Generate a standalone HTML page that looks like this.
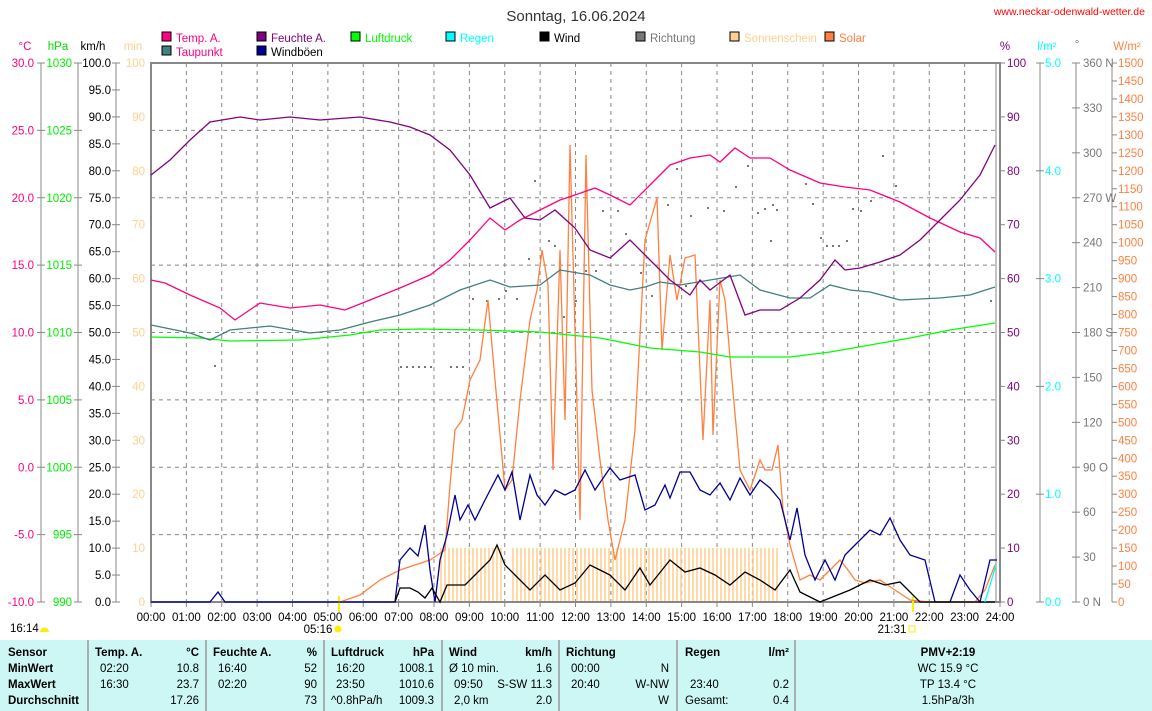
<!DOCTYPE html>
<html><head><meta charset="utf-8">
<style>
body{margin:0;background:#fff;width:1152px;height:711px;overflow:hidden;font-family:"Liberation Sans",sans-serif}
svg{position:absolute;left:0;top:0}
svg text{font-family:"Liberation Sans",sans-serif;font-size:11.5px}
</style></head><body>
<svg id="s" width="1152" height="711" xmlns="http://www.w3.org/2000/svg">
<rect x="0" y="640" width="1152" height="71" fill="#ccf7f5"/>
<text x="576" y="21" text-anchor="middle" font-size="15" style="font-size:15px" fill="#333">Sonntag, 16.06.2024</text>
<text x="1145" y="15" text-anchor="end" fill="#ff0000" style="font-size:10.5px">www.neckar-odenwald-wetter.de</text>
</svg>
<script>
const s=document.getElementById('s');const NS='http://www.w3.org/2000/svg';
function el(t,a,txt){const e=document.createElementNS(NS,t);for(const k in a)e.setAttribute(k,a[k]);if(txt!==undefined)e.textContent=txt;s.appendChild(e);return e;}
function tx(x,y,t,c,anc,extra){const a={x:x,y:y,fill:c||'#000','text-anchor':anc||'start'};if(extra)Object.assign(a,extra);return el('text',a,t);}
const L=151,R=1000,T=63,B=602,H=B-T,hw=(R-L)/24;
// grid
for(let i=1;i<24;i++){const x=L+i*hw;el('line',{x1:x,y1:T,x2:x,y2:B,stroke:'#888','stroke-dasharray':'4,4'});}
for(let i=1;i<8;i++){const y=T+i*H/8;el('line',{x1:L,y1:y,x2:R,y2:y,stroke:'#888','stroke-dasharray':'4,4'});}
// sunshine bars
for(let x=441;x<=780;x+=4){if(x>503&&x<513)continue;el('line',{x1:x,y1:548,x2:x,y2:B,stroke:'#ffd090','stroke-width':1.6});}
// legend
const lg=[[162,38,'#ff0080','Temp. A.','#ff0080'],[257,38,'#800080','Feuchte A.','#800080'],[351,38,'#00ff00','Luftdruck','#00ff00'],[446,38,'#00ffff','Regen','#00ffff'],[540,38,'#000','Wind','#000'],[636,38,'#777','Richtung','#777'],[730,38,'#ffd090','Sonnenschein','#ffd090'],[825,38,'#ff8040','Solar','#ff8040'],[162,52,'#408080','Taupunkt','#ff0080'],[257,52,'#000090','Windböen','#000']];
lg.forEach(l=>{el('rect',{x:l[0],y:l[1]-6,width:9,height:9,fill:l[2],stroke:'#000'});tx(l[0]+14,l[1]+4,l[3],l[4]);});
// left axes
tx(25,50,'°C','#ff0080','middle');tx(58,50,'hPa','#00dd00','middle');tx(93,50,'km/h','#000','middle');tx(133,50,'min','#ffd090','middle');
[[41],[78],[116]].forEach(a=>el('line',{x1:a[0],y1:T,x2:a[0],y2:B,stroke:'#888'}));
for(let i=0;i<=8;i++){const y=T+i*H/8;tx(34,y+4,(30-5*i).toFixed(1),'#ff0080','end');el('line',{x1:37,y1:y,x2:45,y2:y,stroke:'#888'});
 tx(72,y+4,String(1030-5*i),'#00ee00','end');el('line',{x1:74,y1:y,x2:82,y2:y,stroke:'#888'});}
for(let i=0;i<=20;i++){const y=T+i*H/20;tx(111,y+4,(100-5*i).toFixed(1),'#000','end');el('line',{x1:112,y1:y,x2:120,y2:y,stroke:'#888'});}
for(let i=0;i<=10;i++){const y=T+i*H/10;tx(145,y+4,String(100-10*i),'#ffd090','end');el('line',{x1:1000,y1:y,x2:1005,y2:y,stroke:'#888'});tx(1007,y+4,String(100-10*i),'#800080');}
// right axes
tx(1005,50,'%','#800080','middle');tx(1047,50,'l/m²','#00ffff','middle');tx(1077,48,'°','#777','middle');tx(1127,50,'W/m²','#ff8040','middle');
[1040,1076,1112].forEach(x=>el('line',{x1:x,y1:T,x2:x,y2:B,stroke:'#888'}));
for(let i=0;i<=5;i++){const y=T+i*H/5;el('line',{x1:1036,y1:y,x2:1044,y2:y,stroke:'#888'});tx(1045,y+4,(5-i).toFixed(1),'#00ffff');}
const dl={0:' N',3:' W',6:' S',9:' O',12:' N'};
for(let i=0;i<=12;i++){const y=T+i*H/12;el('line',{x1:1072,y1:y,x2:1080,y2:y,stroke:'#888'});tx(1083,y+4,String(360-30*i)+(dl[i]||''),'#777');}
for(let i=0;i<=30;i++){const y=T+i*H/30;el('line',{x1:1112,y1:y,x2:1117,y2:y,stroke:'#888'});tx(1118,y+4,String(1500-50*i),'#ff8040');}
// frame
el('rect',{x:L,y:T,width:R-L,height:H,fill:'none',stroke:'#888','stroke-width':2});
el('line',{x1:996,y1:T,x2:996,y2:B,stroke:'#888'});
// x labels
for(let i=0;i<=24;i++){const x=L+i*hw;el('line',{x1:x,y1:B,x2:x,y2:B+5,stroke:'#888'});tx(x,621,(i<10?'0':'')+i+':00','#000','middle');}
el('line',{x1:339,y1:596,x2:339,y2:612,stroke:'#ffee00','stroke-width':2});el('line',{x1:913,y1:596,x2:913,y2:612,stroke:'#ffee00','stroke-width':2});
tx(318,633,'05:16','#000','middle');el('circle',{cx:338,cy:629,r:3.5,fill:'#ffee00'});
tx(892,633,'21:31','#000','middle');el('rect',{x:909,y:626,width:6,height:6,fill:'none',stroke:'#ffee00'});
tx(10,632,'16:14','#000');el('path',{d:'M40 632 a4 4 0 0 1 9 0 z',fill:'#ffee00'});
// direction dots
[[214,365],[400,366],[406,366],[412,366],[418,366],[424,366],[430,366],[450,366],[456,366],[462,366],[472,298],[486,300],[498,298],[505,290],[516,298],[528,258],[534,180],[548,240],[554,245],[563,316],[575,300],[585,270],[595,270],[602,210],[617,210],[625,233],[640,272],[651,295],[667,204],[676,168],[685,285],[690,215],[707,207],[723,210],[735,186],[747,165],[757,212],[764,208],[770,240],[772,204],[776,209],[805,183],[812,203],[820,237],[826,245],[832,245],[838,245],[846,240],[852,208],[860,210],[870,200],[882,155],[895,185],[990,300]].forEach(p=>el('rect',{x:p[0],y:p[1],width:2,height:2,fill:'#777'}));
function pl(pts,c,w){el('polyline',{points:pts.map(p=>p.join(',')).join(' '),fill:'none',stroke:c,'stroke-width':w||1.3});}
pl([[340,602],[360,595],[380,580],[400,570],[430,560],[445,550],[450,485],[455,430],[462,420],[470,380],[480,360],[488,300],[495,380],[505,490],[512,480],[520,400],[530,320],[537,290],[542,250],[548,285],[553,470],[560,250],[565,420],[570,145],[575,330],[580,520],[586,155],[592,390],[600,460],[608,520],[615,560],[625,520],[635,430],[645,240],[657,198],[662,350],[670,255],[677,300],[685,258],[695,255],[703,440],[710,300],[713,435],[720,280],[725,300],[732,380],[740,470],[750,490],[760,460],[765,470],[772,470],[778,445],[783,510],[790,545],[800,580],[810,575],[820,580],[830,570],[840,560],[848,570],[855,580],[865,583],[880,580],[895,590],[910,600],[930,602],[975,602],[985,590],[995,565]],'#ff8040');
pl([[151,337],[200,338],[230,341],[300,340],[350,335],[380,330],[420,329],[480,330],[540,332],[600,338],[650,348],[700,352],[730,357],[790,357],[830,352],[870,345],[910,338],[950,330],[995,323]],'#00ff00');
pl([[151,325],[190,333],[210,340],[230,330],[270,326],[310,333],[340,330],[370,322],[400,315],[430,305],[460,290],[490,280],[510,287],[540,285],[560,270],[590,275],[610,285],[630,290],[645,287],[660,282],[680,285],[710,280],[740,275],[760,290],[790,298],[810,298],[830,285],[850,290],[870,292],[900,300],[940,298],[970,295],[995,287]],'#408080');
pl([[151,280],[165,283],[190,295],[220,308],[235,320],[260,303],[290,308],[320,305],[345,310],[370,300],[400,288],[430,275],[450,260],[470,240],[490,218],[505,230],[520,220],[540,210],[560,200],[575,195],[595,188],[610,195],[630,205],[650,185],[670,165],[690,158],[710,155],[720,162],[735,148],[750,158],[770,158],[790,170],[820,183],[845,187],[870,190],[900,202],[930,218],[960,232],[980,238],[995,252]],'#ff0080');
pl([[151,175],[170,160],[190,140],[210,122],[240,117],[260,120],[290,117],[320,120],[360,117],[390,122],[410,127],[430,135],[450,150],[470,175],[490,208],[510,198],[525,218],[540,220],[555,210],[575,228],[590,250],[610,258],[630,240],[650,260],[670,280],[690,295],[700,280],[710,290],[730,275],[745,315],[760,310],[780,310],[800,298],[820,280],[835,260],[845,270],[860,268],[880,262],[900,255],[920,240],[940,220],[960,200],[980,175],[995,145]],'#800080');
pl([[151,602],[210,602],[218,592],[225,602],[395,602],[400,560],[410,548],[418,556],[425,525],[430,570],[435,602],[440,560],[447,535],[455,495],[460,520],[468,505],[475,520],[485,500],[498,475],[505,490],[512,472],[520,520],[530,475],[537,495],[545,505],[555,490],[565,495],[575,490],[585,470],[595,490],[610,468],[620,480],[635,475],[645,510],[655,505],[665,485],[670,498],[680,472],[690,472],[700,490],[710,495],[720,483],[730,500],[740,478],[750,495],[760,480],[770,488],[780,500],[790,540],[797,508],[805,555],[815,580],[825,560],[835,580],[845,555],[855,545],[870,530],[880,535],[890,518],[900,540],[910,555],[925,560],[935,602],[950,602],[960,575],[970,590],[980,602],[990,560],[997,560]],'#000090');
pl([[395,602],[400,588],[410,588],[418,592],[425,598],[432,588],[440,602],[447,585],[465,585],[475,575],[490,560],[497,545],[505,565],[515,575],[530,590],[545,575],[560,590],[575,583],[590,565],[600,570],[610,575],[625,590],[640,568],[650,585],[670,560],[685,572],[700,568],[715,575],[730,585],[745,572],[760,580],[775,590],[790,570],[800,592],[820,602],[850,590],[870,580],[885,585],[900,582],[920,602],[995,602]],'#000');
pl([[985,602],[990,585],[996,565]],'#00ffff');
// table
[88,206,324,442,559,677,795].forEach(x=>el('line',{x1:x,y1:640,x2:x,y2:711,stroke:'#999','stroke-width':1.5}));
const B2={'font-weight':'bold'};
const rows=[652,668,684,700];
['Sensor','MinWert','MaxWert','Durchschnitt'].forEach((t,i)=>tx(8,rows[i]+4,t,'#000','start',B2));
function col(x1,x2,hd,un,data){tx(x1,656,hd,'#000','start',B2);tx(x2,656,un,'#000','end',B2);data.forEach((d,i)=>{tx(x1+5,rows[i+1]+4,d[0]);tx(x2,rows[i+1]+4,d[1],'#000','end');});}
col(95,199,'Temp. A.','°C',[['02:20','10.8'],['16:30','23.7'],['','17.26']]);
col(213,317,'Feuchte A.','%',[['16:40','52'],['02:20','90'],['','73']]);
col(331,434,'Luftdruck','hPa',[['16:20','1008.1'],['23:50','1010.6'],['','1009.3']]);
tx(331,704,'^0.8hPa/h');
col(449,552,'Wind','km/h',[['','1.6'],['09:50','S-SW 11.3'],['','2.0']]);
tx(449,672,'Ø 10 min.');tx(454,704,'2,0 km');
col(566,669,'Richtung','',[['00:00','N'],['20:40','W-NW'],['','W']]);
col(685,789,'Regen','l/m²',[['',''],['23:40','0.2'],['','0.4']]);tx(685,704,'Gesamt:');
tx(948,656,'PMV+2:19','#000','middle',B2);tx(948,672,'WC 15.9 °C','#000','middle');tx(948,688,'TP 13.4 °C','#000','middle');tx(948,704,'1.5hPa/3h','#000','middle');
</script>
</body></html>
